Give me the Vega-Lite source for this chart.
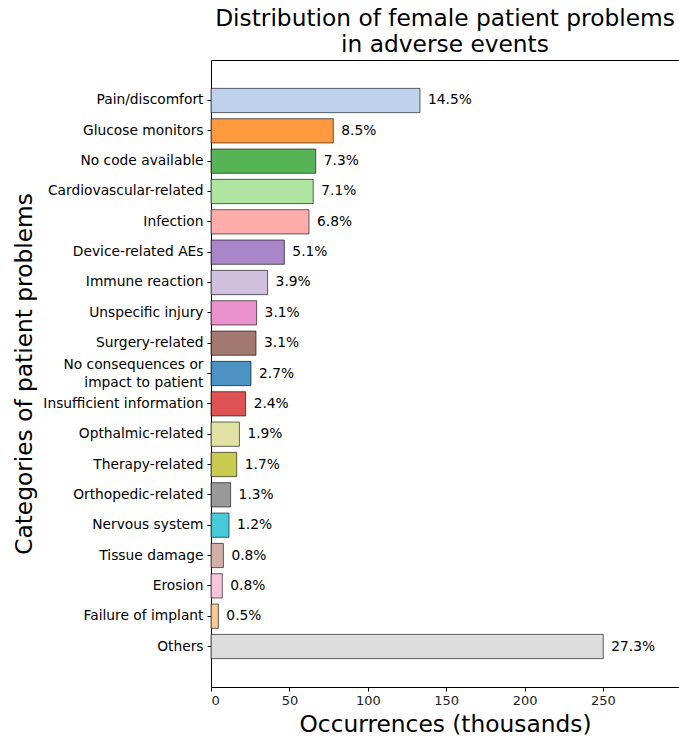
{
  "$schema": "https://vega.github.io/schema/vega-lite/v6.json",
  "width": 468,
  "height": 627,
  "autosize": {"type": "none"},
  "padding": {"left": 211, "top": 60, "right": 0, "bottom": 50},
  "config": {"font": "DejaVu Sans", "view": {"stroke": null}},
  "title": {
    "text": ["Distribution of female patient problems", "in adverse events"],
    "fontSize": 23.3,
    "fontWeight": "normal",
    "anchor": "middle",
    "color": "black",
    "lineHeight": 26,
    "offset": 3
  },
  "data": {
    "values": [
      {"category": "Pain/discomfort", "value": 133.3, "pct": "14.5%"},
      {"category": "Glucose monitors", "value": 78.0, "pct": "8.5%"},
      {"category": "No code available", "value": 66.8, "pct": "7.3%"},
      {"category": "Cardiovascular-related", "value": 65.2, "pct": "7.1%"},
      {"category": "Infection", "value": 62.5, "pct": "6.8%"},
      {"category": "Device-related AEs", "value": 46.8, "pct": "5.1%"},
      {"category": "Immune reaction", "value": 36.1, "pct": "3.9%"},
      {"category": "Unspecific injury", "value": 29.1, "pct": "3.1%"},
      {"category": "Surgery-related", "value": 28.7, "pct": "3.1%"},
      {"category": "No consequences or impact to patient", "value": 25.5, "pct": "2.7%"},
      {"category": "Insufficient information", "value": 22.1, "pct": "2.4%"},
      {"category": "Opthalmic-related", "value": 18.1, "pct": "1.9%"},
      {"category": "Therapy-related", "value": 16.4, "pct": "1.7%"},
      {"category": "Orthopedic-related", "value": 12.5, "pct": "1.3%"},
      {"category": "Nervous system", "value": 11.5, "pct": "1.2%"},
      {"category": "Tissue damage", "value": 7.9, "pct": "0.8%"},
      {"category": "Erosion", "value": 7.2, "pct": "0.8%"},
      {"category": "Failure of implant", "value": 4.7, "pct": "0.5%"},
      {"category": "Others", "value": 250.2, "pct": "27.3%"}
    ]
  },
  "layer": [
    {
      "mark": {"type": "bar", "fillOpacity": 0.8, "stroke": "black", "strokeOpacity": 0.6, "strokeWidth": 1},
      "encoding": {
        "y": {
          "field": "category",
          "type": "nominal",
          "sort": null,
          "scale": {"paddingInner": 0.2, "paddingOuter": 0.935},
          "axis": {
            "title": "Categories of patient problems",
            "titleFontSize": 23.3,
            "titleFontWeight": "normal",
            "titleColor": "black",
            "titlePadding": 6,
            "labelFontSize": 13.8,
            "labelColor": "black",
            "labelLimit": 300,
            "labelPadding": 4,
            "labelLineHeight": 18,
            "labelExpr": "datum.value == 'No consequences or impact to patient' ? ['No consequences or', 'impact to patient'] : datum.label",
            "labelOffset": {"condition": {"test": "datum.value == 'No consequences or impact to patient'", "value": -9}, "value": 0},
            "domainColor": "black",
            "tickColor": "black",
            "tickSize": 4,
            "grid": false
          }
        },
        "x": {
          "field": "value",
          "type": "quantitative",
          "scale": {"domain": [0, 298.5], "nice": false},
          "axis": {
            "title": "Occurrences (thousands)",
            "titleFontSize": 23.3,
            "titleFontWeight": "normal",
            "titleColor": "black",
            "titlePadding": 6,
            "values": [0, 50, 100, 150, 200, 250],
            "labelFontSize": 13,
            "labelColor": "#222222",
            "labelPadding": 3,
            "domainColor": "black",
            "tickColor": "black",
            "tickSize": 4,
            "grid": false
          }
        },
        "color": {
          "field": "category",
          "type": "nominal",
          "sort": null,
          "legend": null,
          "scale": {
            "domain": ["Pain/discomfort", "Glucose monitors", "No code available", "Cardiovascular-related", "Infection", "Device-related AEs", "Immune reaction", "Unspecific injury", "Surgery-related", "No consequences or impact to patient", "Insufficient information", "Opthalmic-related", "Therapy-related", "Orthopedic-related", "Nervous system", "Tissue damage", "Erosion", "Failure of implant", "Others"],
            "range": ["#aec7e8", "#ff7f0e", "#2ca02c", "#98df8a", "#ff9896", "#9467bd", "#c5b0d5", "#e377c2", "#8c564b", "#1f77b4", "#d62728", "#dbdb8d", "#bcbd22", "#7f7f7f", "#17becf", "#c49c94", "#f7b6d2", "#ffbb78", "#d3d3d3"]
          }
        }
      }
    },
    {
      "mark": {"type": "text", "align": "left", "baseline": "middle", "dx": 8, "fontSize": 13.8, "color": "black"},
      "encoding": {
        "y": {"field": "category", "type": "nominal", "sort": null},
        "x": {
          "field": "value",
          "type": "quantitative",
          "axis": {"orient": "top", "labels": false, "ticks": false, "grid": false, "title": null, "domainColor": "black"}
        },
        "text": {"field": "pct"}
      }
    }
  ],
  "resolve": {"axis": {"x": "independent"}}
}
